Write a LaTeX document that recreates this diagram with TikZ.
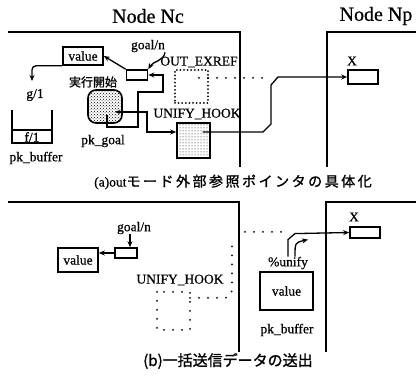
\documentclass[tikz,border=0pt]{standalone}
\usepackage{fontspec}
\setmainfont{Liberation Serif}[FakeBold=0.6]
\newfontfamily\jp{Noto Sans CJK JP}[FakeBold=1.2]
\newfontfamily\jpsp{Noto Sans CJK JP}[FakeBold=1.2,LetterSpace=18]
\usetikzlibrary{arrows.meta,patterns,calc}
\begin{document}
\begin{tikzpicture}[x=1pt,y=-1pt,
  lbl/.style={font=\fontsize{13.5}{15}\selectfont, inner sep=0pt},
  big/.style={font=\fontsize{20}{22}\selectfont, inner sep=0pt},
  bx/.style={draw, line width=1.6pt, inner sep=0pt, font=\fontsize{13.5}{15}\selectfont},
  frame/.style={line width=1.7pt},
  arr/.style={line width=1.3pt, -{Stealth[length=6pt,width=5pt]}},
  con/.style={line width=1.3pt},
  dotline/.style={line width=2pt, line cap=round, dash pattern=on 0pt off 9pt},
  dotbox/.style={draw, line width=2pt, line cap=round, dash pattern=on 0pt off 3.6pt, inner sep=0pt}
]
\useasboundingbox (0,0) rectangle (416,377);

% ---------- panel (a) ----------
\draw[frame] (8,32) -- (240,32) -- (240,167);
\draw[frame] (327,167) -- (327,32) -- (416,32);
\node[big] (Nc) at (148,16) {Node Nc};
\node[big] (Np) at (376,16) {Node Np};

\node[bx, minimum width=40pt, minimum height=18pt] (valA) at (83,56) {value};
\node[bx, minimum width=21pt, minimum height=10pt] (goalA) at (137,75) {};
\node[lbl] (goalnA) at (148,46) {goal/n};
\node[dotbox, minimum width=33pt, minimum height=33pt] (outex) at (191.5,86.5) {};
\node[lbl] (outexL) at (199,62) {OUT\_EXREF};
\node[bx, pattern=dots, minimum width=33pt, minimum height=35pt] (uhA) at (193.5,140.5) {};
\node[lbl] (uhAL) at (197,114) {UNIFY\_HOOK};
\node[bx, rounded corners=8pt, pattern=crosshatch dots, minimum width=34pt, minimum height=33pt] (pkgoal) at (105,106.5) {};
\node[lbl, font=\jp\fontsize{12}{14}\selectfont] (jikko) at (93,82) {実行開始};
\node[lbl] (pkgoalL) at (103,141) {pk\_goal};
\node[lbl] (XA) at (352,61) {X};
\node[bx, minimum width=30pt, minimum height=14pt] (XboxA) at (363,77) {};
\node[lbl] (g1) at (35,95) {g/1};
\coordinate (gArr) at (32,81);
\draw[line width=1.6pt] (12,110) -- (12,143) -- (52,143) -- (52,110);
\draw[line width=1.4pt] (12,130) -- (52,130);
\node[lbl] (f1) at (32,137) {f/1};
\node[lbl] (pkbufA) at (36,158) {pk\_buffer};

% connectors (a)
\draw[arr] (goalA.north west) -- (valA.east);
\draw[arr] (goalnA.south east) to[out=-100,in=60] (goalA.north east);
\draw[arr, rounded corners=4pt] (valA.south west) -| (gArr);
\coordinate (pg1) at ($(pkgoal.center)+(2,8.5)$);
\coordinate (pg2) at ($(pkgoal.center)+(10,5.5)$);
\draw[arr] (pg1) -- (pg1 |- 0,127) -- (138,127) -- (138,92) -- (163,92) -- (163,75) -- (goalA.east);
\draw[{Stealth[length=5pt,width=4pt]}-{Stealth[length=6pt,width=5pt]}, line width=1.3pt] (pg2) -- (147,112) -- (147,132) -- (uhA.west |- 0,132);
\coordinate (uh1) at ($(uhA.center)+(9,-8.5)$);
\draw[arr] (uh1) -- (263,132) -- (271,124) -- (271,85) -- (278,77) -- (XboxA.west);
\coordinate (oe1) at ($(outex.center)+(7.5,-8.5)$);
\draw[dotline] (oe1) -- (270,78);

\node[font=\fontsize{13.5}{15}\selectfont, inner sep=0pt] (capA) at (233,182) {(a)out{\jpsp\fontsize{14}{16}\selectfont モード外部参照ポインタの具体化}};

% ---------- panel (b) ----------
\draw[frame] (8,202) -- (239,202) -- (239,352);
\draw[frame] (326,352) -- (326,202) -- (416,202);

\node[bx, minimum width=40pt, minimum height=24pt] (valB) at (78,260) {value};
\node[bx, minimum width=22pt, minimum height=10pt] (goalB) at (126,253) {};
\node[lbl] (goalnB) at (134,228) {goal/n};
\draw[arr] (goalB.west) -- (goalB.west -| valB.east);
\draw[arr] ([xshift=-4pt]goalnB.south) -- ([xshift=4pt]goalB.north);

\node[lbl] (uhBL) at (180,280) {UNIFY\_HOOK};
\draw[dotline] (157,292) rectangle (190,330);
\draw[dotline, rounded corners=8pt] (190,298) -- (232,298) -- (232,245);
\draw[dotline] (245,232) -- (287,232);

\node[lbl] (XB) at (354,217) {X};
\node[bx, minimum width=30pt, minimum height=11pt] (XboxB) at (365,232.5) {};
\node[lbl] (unifyL) at (288,263) {\%unify};
\node[bx, minimum width=53pt, minimum height=38pt] (valC) at (286.5,291) {value};
\node[lbl] (pkbufB) at (287,330) {pk\_buffer};

\draw[arr] (unifyL.north) -- ++(0,-17) -- ++(7,-6) -- (XboxB.west);
\coordinate (cu) at ($(unifyL.north)+(7,0)$);
\coordinate (cv) at ($(unifyL.north)+(20,-17)$);
\draw[arr] (cu) .. controls ($(cu)+(0,-14)$) .. (cv);

\node[inner sep=0pt, font=\jp\fontsize{15}{17}\selectfont] (capB) at (228,361) {(b)一括送信データの送出};
\end{tikzpicture}
\end{document}
